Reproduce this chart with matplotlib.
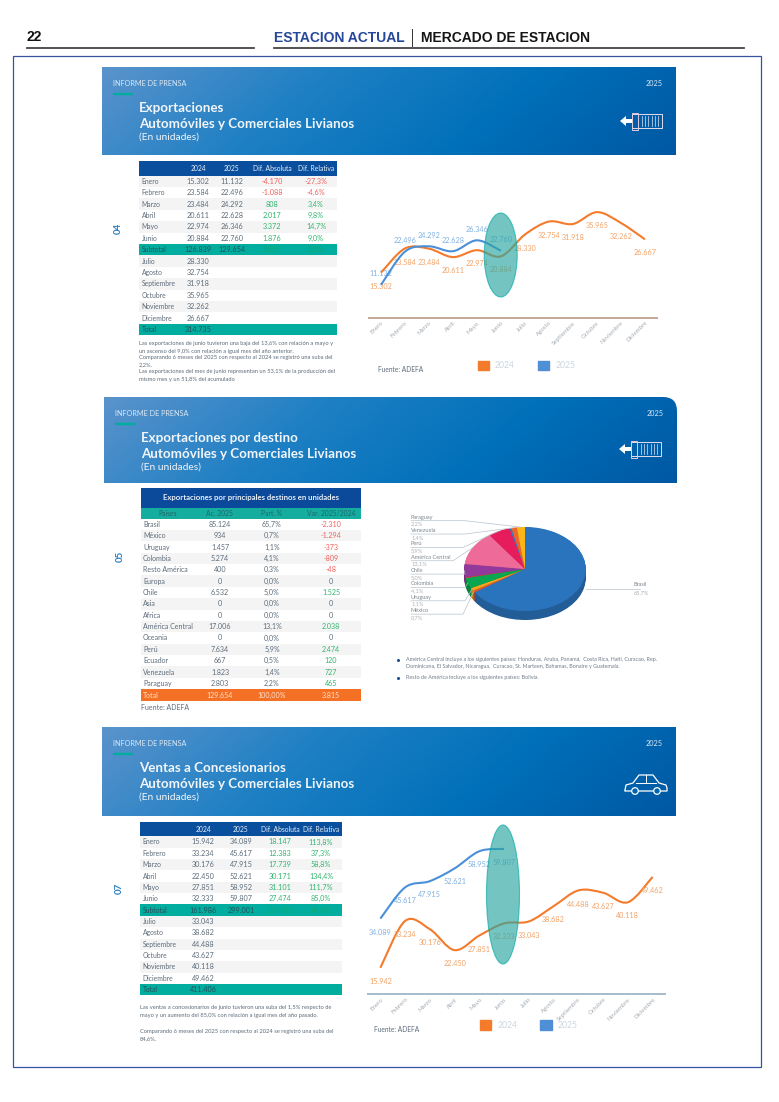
"""Pagina 22 - informe de prensa: exportaciones y ventas a concesionarios."""
import numpy as np
import matplotlib
matplotlib.use("Agg")
import matplotlib.pyplot as plt
from matplotlib.colors import LinearSegmentedColormap
from matplotlib.patches import Circle, Ellipse, Patch, PathPatch, Rectangle
from matplotlib.path import Path

W, H = 779, 1102
FONT = "Lato"
plt.rcParams["font.family"] = [FONT, "DejaVu Sans"]

MONTHS = ["Enero", "Febrero", "Marzo", "Abril", "Mayo", "Junio", "Julio", "Agosto",
          "Septiembre", "Octubre", "Noviembre", "Diciembre"]

EXPO_2024 = [15302, 23584, 23484, 20611, 22974, 20884, 28330, 32754, 31918, 35965, 32262, 26667]
EXPO_2025 = [11132, 22496, 24292, 22628, 26346, 22760]
EXPO_ABS = ["-4.170", "-1.088", "808", "2.017", "3.372", "1.876"]
EXPO_REL = ["-27,3%", "-4,6%", "3,4%", "9,8%", "14,7%", "9,0%"]
EXPO_SUB = ["126.839", "129.654", "2.815", "2,2%"]
EXPO_TOTAL = "314.735"

VENTAS_2024 = [15942, 33234, 30176, 22450, 27851, 32333, 33043, 38682, 44488, 43627, 40118, 49462]
VENTAS_2025 = [34089, 45617, 47915, 52621, 58952, 59807]
VENTAS_ABS = ["18.147", "12.383", "17.739", "30.171", "31.101", "27.474"]
VENTAS_REL = ["113,8%", "37,3%", "58,8%", "134,4%", "111,7%", "85,0%"]
VENTAS_SUB = ["161.986", "299.001", "137.015", "84,6%"]
VENTAS_TOTAL = "411.406"

DESTINOS = ["Brasil", "México", "Uruguay", "Colombia", "Resto América", "Europa", "Chile", "Asia",
            "Africa", "América Central", "Oceania", "Perú", "Ecuador", "Venezuela", "Paraguay"]
DEST_UNITS = [85124, 934, 1457, 5274, 400, 0, 6532, 0, 0, 17006, 0, 7634, 667, 1823, 2803]
DEST_PART = ["65,7%", "0,7%", "1,1%", "4,1%", "0,3%", "0,0%", "5,0%", "0,0%", "0,0%", "13,1%",
             "0,0%", "5,9%", "0,5%", "1,4%", "2,2%"]
DEST_VAR = ["-2.310", "-1.294", "-373", "-809", "-48", "0", "1.525", "0", "0", "2.038", "0",
            "2.474", "120", "727", "465"]
DEST_TOTAL = ["129.654", "100,00%", "3.815"]

PIE_COLORS = {"Brasil": "#2a74bd", "México": "#e05a2b", "Uruguay": "#f5a41e", "Colombia": "#0ba650",
              "Resto América": "#e8452c", "Chile": "#93399b", "América Central": "#ee6b99",
              "Perú": "#e61c5d", "Ecuador": "#3e79c0", "Venezuela": "#f0652a", "Paraguay": "#fbb519"}
# rotulos de la torta, de arriba hacia abajo
PIE_LABELS = ["Paraguay", "Venezuela", "Perú", "América Central", "Chile", "Colombia", "Uruguay", "México"]
PIE_ELBOWS = [465, 465, 463, 453, 465, 465, 465, 463]

TEXT_04 = ["Las exportaciones de junio tuvieron una baja del 13,6% con relación a mayo y",
           "un ascenso del 9,0% con relación a igual mes del año anterior.",
           "Comparando 6 meses del 2025 con respecto al 2024 se registró una suba del",
           "2,2%.",
           "Las exportaciones del mes de junio representan un 53,1% de la producción del",
           "mismo mes y un 51,8% del acumulado"]
TEXT_07 = ["Las ventas a concesionarios de junio tuvieron una suba del 1,5% respecto de",
           "mayo y un aumento del 85,0% con relación a igual mes del año pasado.",
           "Comparando 6 meses del 2025 con respecto al 2024 se registró una suba del",
           "84,6%."]
NOTES_05 = [(660, "América Central incluye a los siguientes países: Honduras, Aruba, Panamá,  Costa Rica, Haití, Curacao, Rep."),
            (666.5, "Dominicana, El Salvador, Nicaragua,  Curacao, St. Marteen, Bahamas, Bonaire y Guatemala."),
            (678, "Resto de América incluye a los siguientes países: Bolivia.")]

ORANGE = "#f47a2c"
BLUE = "#4a90d9"
TEAL = "#00ad9f"
NAVY = "#0a4f9e"
GREY = "#5d6c7a"
RED = "#f0605a"
GREEN = "#2fb56e"
HEADER_CMAP = LinearSegmentedColormap.from_list("hdr", ["#5a93cc", "#1f80c4", "#0070ba", "#0058a3"])


def px_rect(left, top, right, bottom):
    return [left / W, 1 - bottom / H, (right - left) / W, (bottom - top) / H]


def fmt(v):
    return f"{v:,}".replace(",", ".")


def signed_color(s):
    if s == "0":
        return GREY
    return RED if s.startswith("-") else GREEN


def draw_header(ax, top, bottom, left, right, title, sub, x_title, x_info, rounded=False):
    xx, yy = np.meshgrid(np.linspace(0, 1, 300), np.linspace(0, 1, 40))
    img = ax.imshow(xx * 0.85 + yy * 0.15, extent=(left, right, bottom, top), cmap=HEADER_CMAP,
                    aspect="auto", zorder=1, vmin=0, vmax=1)
    if rounded:
        r = 14
        verts = [(left, bottom), (left, top), (right - r, top), (right, top), (right, top + r),
                 (right, bottom), (left, bottom)]
        codes = [Path.MOVETO, Path.LINETO, Path.LINETO, Path.CURVE3, Path.CURVE3, Path.LINETO, Path.CLOSEPOLY]
        img.set_clip_path(PathPatch(Path(verts, codes), transform=ax.transData))
    y0 = top + 16
    ax.text(x_info, y0, "INFORME DE PRENSA", color="#dbe8f3", fontsize=5.25, va="center", zorder=2)
    ax.text(right - 13, y0, "2025", color="#dbe8f3", fontsize=5.25, va="center", ha="right", zorder=2)
    ax.add_patch(Rectangle((x_info, y0 + 9.5), 19, 1.4, color=TEAL, zorder=2))
    ax.text(x_title, top + 41, title, color="#f2f6fa", fontsize=9.6, va="center", zorder=2, fontweight="bold")
    ax.text(x_title, top + 56.5, sub, color="#f2f6fa", fontsize=9.6, va="center", zorder=2, fontweight="bold")
    ax.text(x_title, top + 70, "(En unidades)", color="#f2f6fa", fontsize=7.4, va="center", zorder=2)


def draw_container(ax, x, y):
    # contenedor con flecha, esquina sup. izq. en (x, y)
    ax.add_patch(Rectangle((x + 12, y + 2), 30, 14, fill=False, ec="#e6dcea", lw=0.7, zorder=2))
    ax.add_patch(Rectangle((x + 12, y + 1), 6, 17, fill=False, ec="#e3c9de", lw=0.7, zorder=2))
    for i in range(6):
        ax.plot([x + 22 + i * 3.2] * 2, [y + 4, y + 14], color="#e6e6f0", lw=0.5, zorder=2)
    ax.add_patch(Rectangle((x + 5, y + 7), 7, 4, color="#ffffff", lw=0, zorder=2))
    ax.fill([x, x + 6, x + 6], [y + 9, y + 4, y + 14], color="#ffffff", lw=0, zorder=2)


def draw_car(ax, x, y):
    xs = [x, x + 1, x + 8, x + 14, x + 28, x + 34, x + 41, x + 42, x + 42, x]
    ys = [y + 17, y + 12, y + 10, y + 2, y + 2, y + 10, y + 12, y + 15, y + 18, y + 18]
    ax.plot(xs, ys, color="white", lw=0.9, zorder=2)
    ax.plot([x + 11, x + 31], [y + 10, y + 10], color="white", lw=0.7, zorder=2)
    ax.plot([x + 21, x + 21], [y + 2, y + 10], color="white", lw=0.7, zorder=2)
    for cx in (x + 10, x + 32):
        ax.add_patch(Circle((cx, y + 18), 3.3, fc="#0065b0", ec="white", lw=0.9, zorder=3))


def draw_month_table(ax, box, cols, rows_y, pitch, head, vals_a, vals_b, vals_abs, vals_rel, sub, total):
    left, right = box
    ax.add_patch(Rectangle((left, rows_y - pitch * 1.78), right - left, pitch * 1.4, color=NAVY, lw=0))
    for x, s in zip(cols, head):
        ax.text(x, rows_y - pitch * 1.08, s, color="#e8eff6", fontsize=4.9, ha="center", va="center")
    for i in range(14):
        y = rows_y + i * pitch
        if i == 6 or i == 13:
            ax.add_patch(Rectangle((left, y - pitch / 2), right - left, pitch, color=TEAL, lw=0))
        elif i % 2 == 0 if i < 6 else i % 2 == 1:
            ax.add_patch(Rectangle((left, y - pitch / 2), right - left, pitch, color="#f4f4f4", lw=0))
    labels = MONTHS[:6] + ["Subtotal"] + MONTHS[6:] + ["Total"]
    for i, lab in enumerate(labels):
        dark = lab in ("Subtotal", "Total")
        ax.text(left + 2.5, rows_y + i * pitch, lab, fontsize=4.9, va="center", color="#28505a" if dark else GREY)
    for i in range(6):
        y = rows_y + i * pitch
        ax.text(cols[0], y, fmt(vals_a[i]), fontsize=5.2, ha="center", va="center", color=GREY)
        ax.text(cols[1], y, fmt(vals_b[i]), fontsize=5.2, ha="center", va="center", color=GREY)
        ax.text(cols[2], y, vals_abs[i], fontsize=5.2, ha="center", va="center", color=signed_color(vals_abs[i]))
        ax.text(cols[3], y, vals_rel[i], fontsize=5.2, ha="center", va="center", color=signed_color(vals_rel[i]))
    y = rows_y + 6 * pitch
    for x, s, c in zip(cols, sub, ["#28505a", "#28505a", "#14a86c", "#14a86c"]):
        ax.text(x, y, s, fontsize=5.2, ha="center", va="center", color=c)
    for i in range(6):
        ax.text(cols[0], rows_y + (7 + i) * pitch, fmt(vals_a[6 + i]), fontsize=5.2, ha="center", va="center", color=GREY)
    ax.text(cols[0], rows_y + 13 * pitch, total, fontsize=5.2, ha="center", va="center", color="#28505a")


def smooth_line(ax, y, color, zorder=3):
    # curva suavizada pasando por cada valor, como la linea suavizada de Excel
    pts = np.column_stack([np.arange(len(y), dtype=float), np.array(y, dtype=float)])
    verts, codes = [pts[0]], [Path.MOVETO]
    for i in range(len(pts) - 1):
        prev_pt = pts[max(i - 1, 0)]
        next_pt = pts[min(i + 2, len(pts) - 1)]
        verts += [pts[i] + (pts[i + 1] - prev_pt) / 6, pts[i + 1] - (next_pt - pts[i]) / 6, pts[i + 1]]
        codes += [Path.CURVE4] * 3
    ax.add_patch(PathPatch(Path(verts, codes), fill=False, ec=color, lw=1.5, zorder=zorder,
                           capstyle="butt", clip_on=False))


def draw_line_chart(fig, rect, ylim, vals_2024, vals_2025, spine_color, label_dy_2025, legend_y):
    ax = fig.add_axes(rect)
    ax.patch.set_visible(False)
    ax.set_xlim(-0.5, 11.5)
    ax.set_ylim(*ylim)
    smooth_line(ax, vals_2024, ORANGE)
    smooth_line(ax, vals_2025, BLUE, zorder=4)
    for i, v in enumerate(vals_2024):
        ax.annotate(fmt(v), (i, v), xytext=(0, -9.8), textcoords="offset points", ha="center", va="center",
                    fontsize=5.2, color="#f2a266")
    for i, v in enumerate(vals_2025):
        ax.annotate(fmt(v), (i, v), xytext=(0, label_dy_2025), textcoords="offset points", ha="center",
                    va="center", fontsize=5.2, color="#7fb0e0")
    for s in ("top", "left", "right"):
        ax.spines[s].set_visible(False)
    ax.spines["bottom"].set_color(spine_color)
    ax.spines["bottom"].set_linewidth(1.4)
    ax.set_yticks([])
    ax.set_xticks(range(12))
    ax.set_xticklabels(MONTHS, rotation=45, ha="right", rotation_mode="anchor", fontsize=4.4, color="#a5adb5")
    ax.tick_params(axis="x", length=0, pad=2)
    handles = [Patch(color=ORANGE, label="2024"), Patch(color="#4f8fd6", label="2025")]
    ax.legend(handles=handles, ncol=2, frameon=False, loc="center left", fontsize=6.2,
              bbox_to_anchor=(0.377, legend_y),
              handlelength=1.3, handleheight=1.3, handletextpad=0.7, columnspacing=2.7,
              labelcolor="#ccd6de", borderpad=0, borderaxespad=0)
    return ax


fig = plt.figure(figsize=(W / 100, H / 100), dpi=100, facecolor="white")
page = fig.add_axes([0, 0, 1, 1])
page.set_xlim(0, W)
page.set_ylim(H, 0)
page.axis("off")

# cabecera de la revista
page.text(27, 37, "22", fontsize=10, fontweight="bold", family="Liberation Sans", va="center", color="#111111")
page.plot([27, 254], [48, 48], color="#444444", lw=1.3)
page.plot([274, 744], [48, 48], color="#444444", lw=1.3)
page.text(274, 38.5, "ESTACION ACTUAL", fontsize=10, fontweight="bold", family="Liberation Sans",
          va="center", color="#27489a")
page.plot([412.5, 412.5], [29, 46], color="#333333", lw=0.7)
page.text(421, 38.5, "MERCADO DE ESTACION", fontsize=10, fontweight="bold", family="Liberation Sans",
          va="center", color="#151515")
page.add_patch(Rectangle((13, 56), 748, 1011, fill=False, ec="#36549f", lw=0.9))

# banners
draw_header(page, 67, 155, 102.5, 676, "Exportaciones", "Automóviles y Comerciales Livianos", 139, 113)
draw_header(page, 397, 483, 104, 677, "Exportaciones por destino", "Automóviles y Comerciales Livianos", 141, 115, rounded=True)
draw_header(page, 727, 816, 102.5, 676, "Ventas a Concesionarios", "Automóviles y Comerciales Livianos", 139, 113)
draw_container(page, 620, 112)
draw_container(page, 619, 440)
draw_car(page, 625, 773)

for x, y, s in [(118, 228, "04"), (120, 556, "05"), (119, 888, "07")]:
    page.text(x, y, s, rotation=90, fontsize=7, color="#2a7fc0", ha="center", va="center", fontweight="bold")

# tabla 04
HEAD = ["2024", "2025", "Dif. Absoluta", "Dif. Relativa"]
draw_month_table(page, (139, 337), [198, 232, 272, 316], 181.3, 11.4, HEAD, EXPO_2024, EXPO_2025,
                 EXPO_ABS, EXPO_REL, EXPO_SUB, EXPO_TOTAL)
for y, s in zip([344, 351.5, 358, 364.5, 372, 379.5], TEXT_04):
    page.text(139, y, s, fontsize=4.15, color=GREY, va="center")

# tabla 07
draw_month_table(page, (140, 342), [203, 241, 280, 321], 842, 11.36, HEAD, VENTAS_2024, VENTAS_2025,
                 VENTAS_ABS, VENTAS_REL, VENTAS_SUB, VENTAS_TOTAL)
for y, s in zip([1008, 1016, 1031, 1039], TEXT_07):
    page.text(140, y, s, fontsize=4.15, color=GREY, va="center")

# tabla 05
page.add_patch(Rectangle((141, 488), 220, 20, color="#0b4a9b", lw=0))
page.add_patch(Rectangle((141, 508), 220, 10.5, color="#14ad9f", lw=0))
page.text(251, 497.5, "Exportaciones por principales destinos en unidades", color="#e8eff6", fontsize=5.55,
          ha="center", va="center", fontweight="bold")
COLS_05 = [220, 272, 331]
for x, s in zip([168] + COLS_05, ["Países", "Ac. 2025", "Part. %", "Var. 2025/2024"]):
    page.text(x, 513.2, s, color="#1c6a6a", fontsize=4.9, ha="center", va="center")
for i, name in enumerate(DESTINOS):
    y = 524.3 + i * 11.37
    if i % 2 == 1:
        page.add_patch(Rectangle((141, y - 5.68), 220, 11.37, color="#f4f4f4", lw=0))
    page.text(143, y, name, fontsize=5, color=GREY, va="center")
    page.text(COLS_05[0], y, fmt(DEST_UNITS[i]), fontsize=5.1, color=GREY, ha="center", va="center")
    page.text(COLS_05[1], y, DEST_PART[i], fontsize=5.1, color=GREY, ha="center", va="center")
    page.text(COLS_05[2], y, DEST_VAR[i], fontsize=5.1, color=signed_color(DEST_VAR[i]), ha="center", va="center")
page.add_patch(Rectangle((141, 689.3), 220, 11.4, color="#f47024", lw=0))
page.text(143, 695, "Total", fontsize=5, color="#fde3d0", va="center")
for x, s in zip(COLS_05, DEST_TOTAL):
    page.text(x, 695, s, fontsize=5.1, color="#fde3d0", ha="center", va="center")
page.text(141, 707.5, "Fuente: ADEFA", fontsize=5, color=GREY, va="center")

# graficos de lineas
draw_line_chart(fig, px_rect(369, 205, 657, 317.5), (0, 38400), EXPO_2024, EXPO_2025, "#c4a898", 8, -0.425)
draw_line_chart(fig, px_rect(368, 825, 665, 994), (6270, 68630), VENTAS_2024, VENTAS_2025, "#a3bccb", -9.8, -0.185)
page.text(378, 370, "Fuente: ADEFA", fontsize=4.8, color=GREY, va="center")
page.text(374, 1029, "Fuente: ADEFA", fontsize=4.8, color=GREY, va="center")

# torta 05
PIE_NAMES = [n for n, v in zip(DESTINOS, DEST_UNITS) if v > 0]
PIE_VALUES = [v for v in DEST_UNITS if v > 0]
CX, CY, RX, RY, DEPTH = 525, 569, 60.7, 42.0, 9.0
pie_ax = fig.add_axes(px_rect(CX - RX * 1.2, CY - RY * 1.2, CX + RX * 1.2, CY + RY * 1.2))
colors = [PIE_COLORS[n] for n in PIE_NAMES]
dark = [tuple(c * 0.8 for c in matplotlib.colors.to_rgb(col)) for col in colors]
for k in np.linspace(DEPTH / RY, 0.01, 12):
    pie_ax.pie(PIE_VALUES, colors=dark, startangle=90, counterclock=False, center=(0, -k), radius=1,
               wedgeprops={"lw": 0})
pie_ax.pie(PIE_VALUES, colors=colors, startangle=90, counterclock=False, radius=1, wedgeprops={"lw": 0})
pie_ax.set_aspect("auto")
pie_ax.set_xlim(-1.2, 1.2)
pie_ax.set_ylim(-1.2, 1.2)
for w in pie_ax.patches:
    w.set_clip_on(False)

overlay = fig.add_axes([0, 0, 1, 1], zorder=10)
overlay.set_xlim(0, W)
overlay.set_ylim(H, 0)
overlay.axis("off")

fractions = np.cumsum(PIE_VALUES) / sum(PIE_VALUES)
mid_angle = {}
for n, end, v in zip(PIE_NAMES, fractions, PIE_VALUES):
    mid_angle[n] = (end - v / sum(PIE_VALUES) / 2) * 2 * np.pi

for i, (name, elbow) in enumerate(zip(PIE_LABELS, PIE_ELBOWS)):
    y = 517 + i * 13.35
    part = DEST_PART[DESTINOS.index(name)]
    overlay.text(411, y, name, fontsize=4.1, color="#7d8891", va="center")
    overlay.text(411, y + 7, part, fontsize=4.1, color="#aab2b9", va="center")
    th = mid_angle[name]
    tx, ty = CX + RX * np.sin(th), CY - RY * np.cos(th)
    overlay.plot([411, elbow, tx], [y + 3.7, y + 3.7, ty], color="#b6c3cc", lw=0.5)
overlay.plot([CX + RX, 640], [588.5, 588.5], color="#b6c3cc", lw=0.5)
overlay.text(634, 585, "Brasil", fontsize=4.1, color="#7d8891", va="center")
overlay.text(634, 593, DEST_PART[0], fontsize=4.1, color="#aab2b9", va="center")

for y, s in NOTES_05:
    page.text(406, y, s, fontsize=3.85, color="#6f7d8a", va="center")
for y in (660, 678):
    page.plot([398.5], [y], marker="o", ms=1.2, color="#1d4f8c", lw=0)

# elipses que resaltan junio
for cx, cy, ew, eh in [(500.7, 255, 33, 84), (503, 894.5, 33, 139)]:
    overlay.add_patch(Ellipse((cx, cy), ew, eh, fc="#2aa6a2", ec="#00a9a9", alpha=0.65, lw=0.8))

fig.savefig("out.png", dpi=100)
